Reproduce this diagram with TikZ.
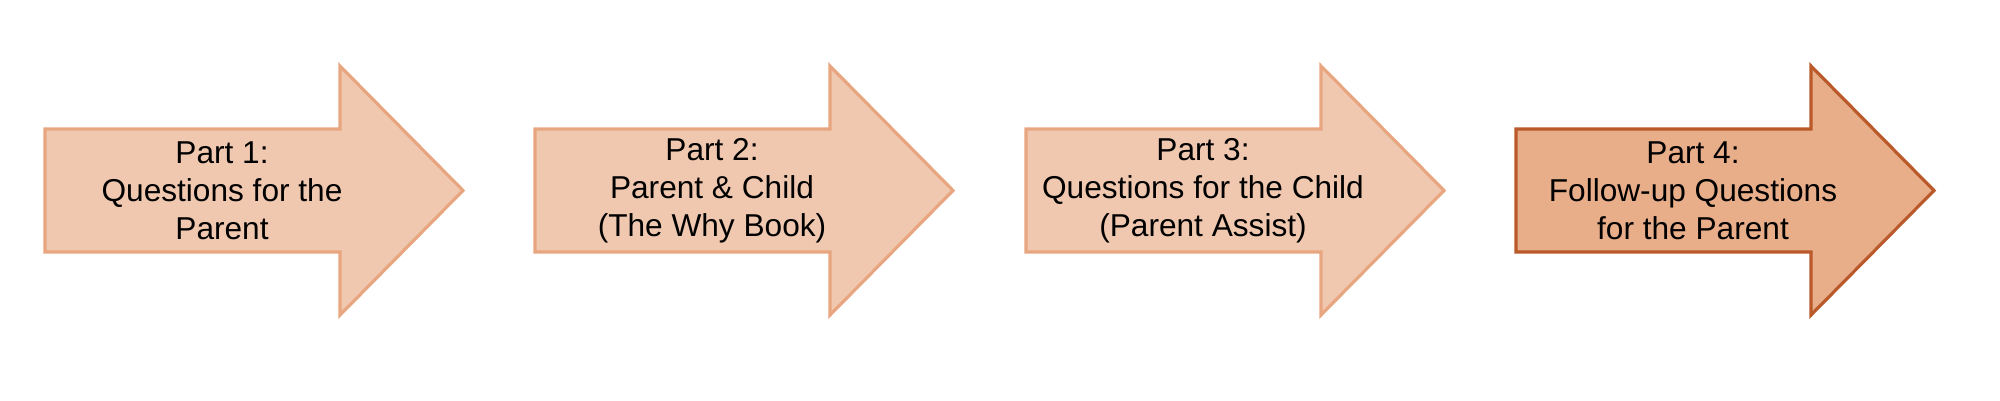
\documentclass[tikz,border=0pt]{standalone}
\usepackage{fontspec}
\setmainfont{Liberation Sans}
\usepackage{tikz}

\definecolor{peach}{RGB}{240,200,175}
\definecolor{peachline}{RGB}{232,166,128}
\definecolor{peachdark}{RGB}{232,173,137}
\definecolor{peachdarkline}{RGB}{186,90,42}

\tikzset{
	partarrow/.style={fill=peach, draw=peachline, line width=0.9pt, line join=miter},
	lastarrow/.style={fill=peachdark, draw=peachdarkline, line width=0.9pt, line join=miter},
	parttext/.style={align=center, font=\fontsize{9}{10.8}\selectfont, inner sep=0pt}
}

\begin{document}
\begin{tikzpicture}
	\useasboundingbox (0,0) rectangle (20,4);

	% Arrows: body from x to x+2.95, head to x+4.18
	\foreach \x/\s in {0.45/partarrow, 5.35/partarrow, 10.26/partarrow, 15.16/lastarrow}{
		\draw[\s] (\x,2.71) -- (\x+2.95,2.71) -- (\x+2.95,3.34) -- (\x+4.18,2.095)
			-- (\x+2.95,0.85) -- (\x+2.95,1.48) -- (\x,1.48) -- cycle;
	}

	% Labels
	\node[parttext] (p1) at (2.22,2.095) {Part 1:\\Questions for the\\Parent};
	\node[parttext] (p2) at (7.12,2.095) {Part 2:\\Parent \& Child\\(The Why Book)};
	\node[parttext] (p3) at (12.03,2.095) {Part 3:\\Questions for the Child\\(Parent Assist)};
	\node[parttext] (p4) at (16.93,2.095) {Part 4:\\Follow-up Questions\\for the Parent};

\end{tikzpicture}
\end{document}
